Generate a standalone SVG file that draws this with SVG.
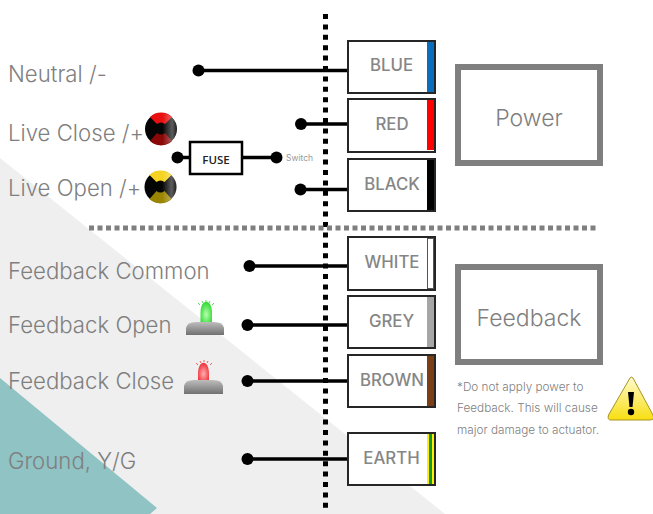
<svg xmlns="http://www.w3.org/2000/svg" width="653" height="514" viewBox="0 0 653 514">
<style>
.lab{font-family:Inter,"Liberation Sans",sans-serif;font-size:22.200px;font-weight:300;fill:#7f7f7f}
.wt{font-family:Inter,"Liberation Sans",sans-serif;font-size:16.800px;font-weight:500;fill:#868686;text-anchor:middle}
.big{font-family:Inter,"Liberation Sans",sans-serif;font-size:23px;font-weight:300;fill:#7f7f7f;text-anchor:middle}
.note{font-family:Inter,"Liberation Sans",sans-serif;font-size:11.750px;font-weight:300;fill:#7f7f7f}
.box{fill:#fff;stroke:#262626;stroke-width:2}
.grp{fill:none;stroke:#7f7f7f;stroke-width:6}
.w{stroke:#000;stroke-width:3.5;fill:none}
</style>
<defs>
<linearGradient id="base" x1="0" y1="0" x2="0" y2="1"><stop offset="0" stop-color="#bdbdbd"/><stop offset="1" stop-color="#707070"/></linearGradient>
<radialGradient id="gl" cx=".5" cy=".6" r=".6"><stop offset="0" stop-color="#b6ffb0"/><stop offset="1" stop-color="#2ed82e"/></radialGradient>
<radialGradient id="rl" cx=".5" cy=".6" r=".6"><stop offset="0" stop-color="#ffb0b0"/><stop offset="1" stop-color="#f02c36"/></radialGradient>
<linearGradient id="warn" x1="0" y1="0" x2="0" y2="1"><stop offset="0" stop-color="#fffbd0"/><stop offset="1" stop-color="#f8de10"/></linearGradient>
<linearGradient id="sheen" x1="0" y1="0" x2="1" y2="0"><stop offset=".55" stop-color="#fff" stop-opacity="0"/><stop offset=".85" stop-color="#fff" stop-opacity=".35"/><stop offset="1" stop-color="#fff" stop-opacity=".1"/></linearGradient>
</defs>
<g id="background">
<polygon points="0,158 445,514 0,514" fill="#efefef"/>
<polygon points="0,378 157,508 150,514 0,514" fill="#8fc3c4"/>
</g>
<g id="connectors">
<path class="w" d="M198 70.500H348M301 124H348M301 189.500H348M177 157.500H190M243 157.500H277M249 266H348M248 325H348M248 381H348M248 459H348"/>
<g fill="#000">
<circle cx="198.500" cy="70.500" r="6"/><circle cx="301" cy="124" r="6"/><circle cx="300.500" cy="189.500" r="6"/><circle cx="177.500" cy="157.500" r="6"/><circle cx="276.500" cy="157.500" r="6"/><circle cx="249.500" cy="266" r="6"/><circle cx="247.500" cy="325" r="6"/><circle cx="247.500" cy="381" r="6"/><circle cx="247.500" cy="459" r="6"/>
</g>
<line x1="325.500" y1="14" x2="325.500" y2="512" stroke="#000" stroke-width="5" stroke-dasharray="5 5.400"/>
<line x1="89" y1="228" x2="596" y2="228" stroke="#7f7f7f" stroke-width="5" stroke-dasharray="5 3.500"/>
</g>
<g id="label-neutral"><text class="lab" x="8" y="82">Neutral /-</text></g>
<g id="label-live-close"><text class="lab" x="8" y="141">Live Close /+</text>
<circle cx="161" cy="129" r="16" fill="#050505"/><path d="M150 117 A16 16 0 0 1 172 117 L165 124 A6 6 0 0 0 157 124Z" fill="#e81010"/><path d="M150 141 A16 16 0 0 0 172 141 L165 133 A6 6 0 0 1 157 133Z" fill="#8a0808"/><circle cx="161" cy="129" r="16" fill="url(#sheen)"/></g>
<g id="label-live-open"><text class="lab" x="8" y="196">Live Open /+</text>
<circle cx="160.500" cy="187" r="16" fill="#050505"/><path d="M149.500 175 A16 16 0 0 1 171.500 175 L164.500 182 A6 6 0 0 0 156.500 182Z" fill="#f5d320"/><path d="M149.500 199 A16 16 0 0 0 171.500 199 L164.500 191 A6 6 0 0 1 156.500 191Z" fill="#9a8500"/><circle cx="160.500" cy="187" r="16" fill="url(#sheen)"/></g>
<g id="fuse"><rect x="190" y="142" width="52" height="32" fill="#fff" stroke="#000" stroke-width="2.500"/><text x="216" y="164" font-family="'Open Sans','Liberation Sans',sans-serif" font-size="11.500" font-weight="600" text-anchor="middle" fill="#222">FUSE</text></g>
<g id="label-switch"><text x="286" y="161" font-family="Inter,'Liberation Sans',sans-serif" font-size="8.500" fill="#999">Switch</text></g>
<g id="label-fb-common"><text class="lab" x="8" y="279">Feedback Common</text></g>
<g id="label-fb-open"><text class="lab" x="8" y="333">Feedback Open</text>
<path d="M200.500 323V313C200.500 298 212 298 212 313V323Z" fill="url(#gl)"/><path d="M186 335V328Q187 322 196 322H214Q223 322 224 328V335Z" fill="url(#base)"/>
<path d="M200 305l-2-2M203 303l-1-2M206 302v-2M209 303l1-2M212 305l2-2" stroke="#5ada5a" stroke-width="1" fill="none"/></g>
<g id="label-fb-close"><text class="lab" x="8" y="389">Feedback Close</text>
<path d="M198 381V374C198 359 209 359 209 374V381Z" fill="url(#rl)"/><path d="M184 394V386Q185 380 194 380H213Q222 380 223 386V394Z" fill="url(#base)"/>
<path d="M198 365l-2-2M201 363l-1-2M204 362v-2M207 363l1-2M210 365l2-2" stroke="#f06060" stroke-width="1" fill="none"/></g>
<g id="label-ground"><text class="lab" x="8" y="469">Ground, Y/G</text></g>
<g id="wire-blue"><rect class="box" x="348" y="41" width="87" height="52"/><rect x="427" y="42" width="7" height="50" fill="#0a6ebd"/><text class="wt" x="391.500" y="70.500">BLUE</text></g>
<g id="wire-red"><rect class="box" x="348" y="99" width="87" height="53"/><rect x="427" y="100" width="7" height="50" fill="#ff0000"/><text class="wt" x="392" y="129.500">RED</text></g>
<g id="wire-black"><rect class="box" x="348" y="159" width="87" height="52"/><rect x="427" y="160" width="7" height="50" fill="#000"/><text class="wt" x="392" y="189.500">BLACK</text></g>
<g id="wire-white"><rect class="box" x="348" y="237" width="87" height="53"/><rect x="427.500" y="238.500" width="6" height="50" fill="#fff" stroke="#555" stroke-width="1"/><text class="wt" x="392" y="267.500">WHITE</text></g>
<g id="wire-grey"><rect class="box" x="348" y="296" width="87" height="52"/><rect x="427" y="297" width="7" height="50" fill="#a6a6a6"/><text class="wt" x="391.500" y="326.500">GREY</text></g>
<g id="wire-brown"><rect class="box" x="348" y="355" width="87" height="52"/><rect x="427" y="356" width="7" height="50" fill="#7a3f17"/><text class="wt" x="392" y="385.500">BROWN</text></g>
<g id="wire-earth"><rect class="box" x="348" y="433" width="87" height="52"/><rect x="427" y="434" width="7" height="50" fill="#ffee00"/><rect x="429" y="434" width="3" height="50" fill="#0a9a3a"/><text class="wt" x="391.500" y="463.500">EARTH</text></g>
<g id="power"><rect class="grp" x="458" y="67" width="142" height="96"/><text class="big" x="529" y="126">Power</text></g>
<g id="feedback"><rect class="grp" x="458" y="267" width="142" height="95"/><text class="big" x="529" y="326">Feedback</text></g>
<g id="note"><text class="note" x="457" y="391">*Do not apply power to</text><text class="note" x="457" y="412">Feedback. This will cause</text><text class="note" x="457" y="434">major damage to actuator.</text></g>
<g id="warning"><path d="M630 378L608.500 415Q607 420 611 420H650Q655 420 653 415L633 378Q631 376 630 378Z" fill="url(#warn)" stroke="#a89420" stroke-width="1"/><path d="M628 392h6l-1.500 15h-3Z" fill="#000"/><circle cx="631" cy="412" r="3.200" fill="#000"/></g>
</svg>
